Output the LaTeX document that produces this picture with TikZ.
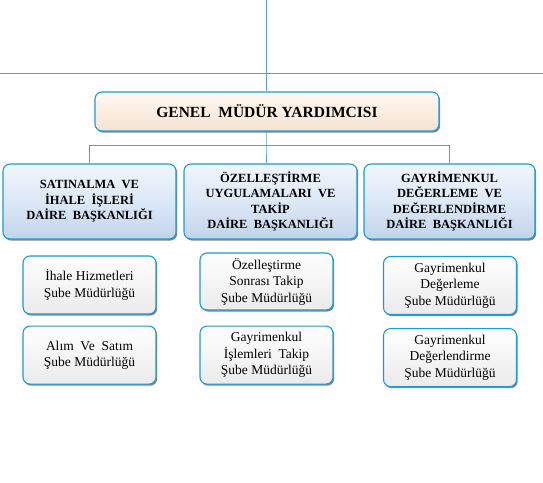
\documentclass[tikz,border=0pt]{standalone}
\usepackage{fontspec}
\setmainfont{Liberation Serif}
\usetikzlibrary{positioning,shadows}
\definecolor{edge}{HTML}{1A9AD8}
\definecolor{wire}{HTML}{5B9BD5}
\definecolor{peach}{HTML}{FCEEE0}
\definecolor{pale}{HTML}{DCE8F6}
\definecolor{paledark}{HTML}{C2D4EA}

\begin{document}
\begin{tikzpicture}[x=1pt, y=-1pt, node distance=12pt,
			box/.style={draw=edge, line width=1.1pt, rounded corners=7pt, align=center, inner sep=2pt,
				drop shadow={shadow xshift=1.2pt, shadow yshift=-1.6pt, fill=black!60, opacity=0.8}},
			gmbox/.style={box, top color=white!60!peach, bottom color=peach!80!brown!70, middle color=peach,
				minimum width=344pt, minimum height=39pt, font=\fontsize{15.5}{17}\selectfont\bfseries},
			dbox/.style={box, top color=pale!40!white, bottom color=paledark, middle color=pale,
				minimum width=173pt, minimum height=75pt, font=\fontsize{12.5}{15.5}\selectfont\bfseries},
			sbox/.style={box, top color=white, bottom color=black!8, minimum width=133pt, minimum height=58pt,
				font=\fontsize{13.5}{16.5}\selectfont},
			wire/.style={draw=wire, line width=0.8pt}]
			\useasboundingbox (0,0) rectangle (543,482);
			% upper lines
			\coordinate (tp) at (266,0);
			\coordinate (hl) at (0,73);
			\coordinate (hr) at (543,73);
			\node[gmbox] (gmy) at (267,111.5) {GENEL\ \ MÜDÜR YARDIMCISI};
			% daire baskanliklari
			\node[dbox] (d1) at (89.5,201.5) {SATINALMA\ \ VE\\İHALE\ \ İŞLERİ\\DAİRE\ \ BAŞKANLIĞI};
			\node[dbox] (d2) at (270.5,201.5) {ÖZELLEŞTİRME\\UYGULAMALARI\ \ VE\\TAKİP\\DAİRE\ \ BAŞKANLIĞI};
			\node[dbox, minimum width=171pt] (d3) at (449.5,201.5) {GAYRİMENKUL\\DEĞERLEME\ \ VE\\DEĞERLENDİRME\\DAİRE\ \ BAŞKANLIĞI};
			% sube mudurlukleri
			\node[sbox] (s11) at (89.5,285) {İhale Hizmetleri\\Şube Müdürlüğü};
			\node[sbox, below=11pt of s11] (s12) {Alım\ \ Ve\ \ Satım\\Şube Müdürlüğü};
			\node[sbox, minimum height=57pt] (s21) at (266.5,281.5) {Özelleştirme\\Sonrası Takip\\Şube Müdürlüğü};
			\node[sbox, below=15pt of s21] (s22) {Gayrimenkul\\İşlemleri\ \ Takip\\Şube Müdürlüğü};
			\node[sbox] (s31) at (450,285.5) {Gayrimenkul\\Değerleme\\Şube Müdürlüğü};
			\node[sbox, below=13pt of s31] (s32) {Gayrimenkul\\Değerlendirme\\Şube Müdürlüğü};
			% connectors
			\coordinate (bus) at (266,145);
			\draw[wire] (tp) -- (tp |- gmy.north);
			\draw[wire] (hl) -- (hr);
			\draw[wire] (gmy.south -| bus) -- (bus) -- (bus |- d2.north);
			\draw[wire] (d1.north) -- (d1.north |- bus) -| (d3.north);
		\end{tikzpicture}
\end{document}
